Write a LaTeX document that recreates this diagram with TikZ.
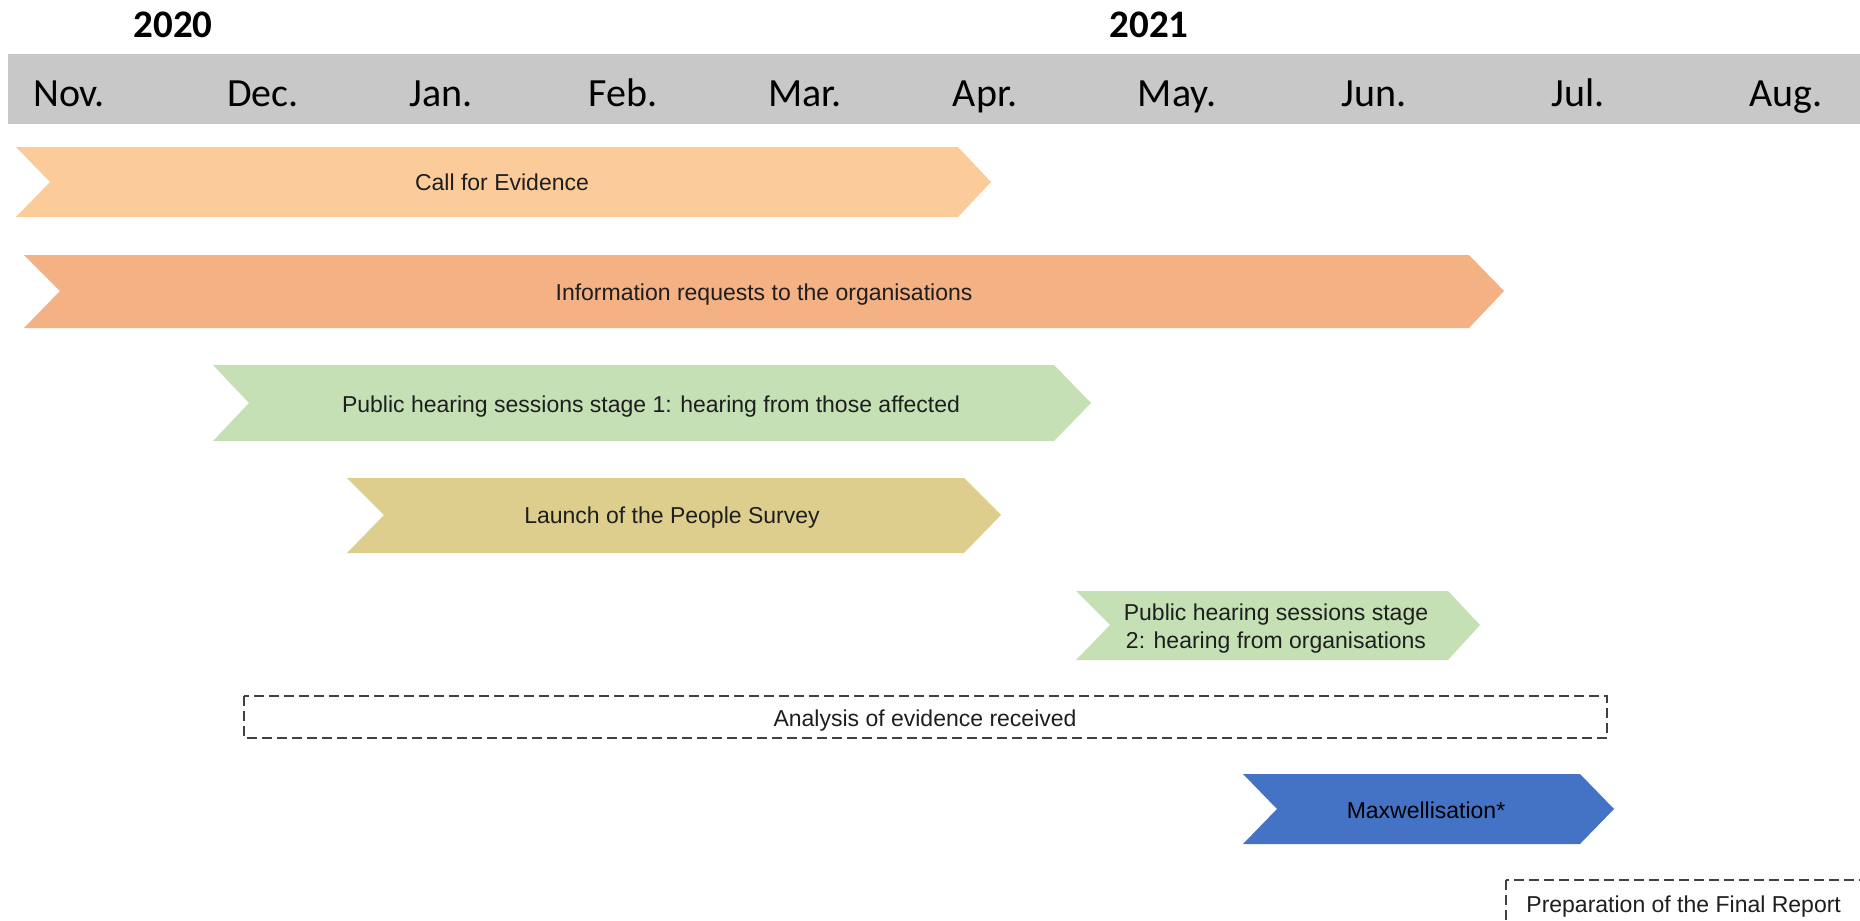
\documentclass[tikz,border=0pt]{standalone}
\usepackage{fontspec}
\setmainfont{Liberation Sans}
\newfontfamily\calibrifont{Carlito}
\definecolor{barpeach}{RGB}{251,203,153}
\definecolor{barorange}{RGB}{244,177,131}
\definecolor{bargreen}{RGB}{197,224,180}
\definecolor{barkhaki}{RGB}{222,206,142}
\definecolor{barblue}{RGB}{68,114,196}
\definecolor{headgrey}{RGB}{200,200,200}
\definecolor{txtdark}{RGB}{30,30,30}
\definecolor{dashgrey}{RGB}{64,64,64}
\begin{document}
\begin{tikzpicture}[x=0.5pt,y=-0.5pt,
  month/.style={font=\calibrifont\fontsize{20pt}{24pt}\selectfont, text=black, inner sep=0pt, anchor=base},
  year/.style={font=\calibrifont\bfseries\fontsize{19.5pt}{24pt}\selectfont, text=black, inner sep=0pt, anchor=base},
  label/.style={font=\fontsize{11.5pt}{14pt}\selectfont, text=txtdark, inner sep=0pt, anchor=base},
  chevron/.style={draw=none},
  dashbox/.style={draw=dashgrey, line width=1pt, dash pattern=on 5pt off 2.5pt}
]
\useasboundingbox (0,0) rectangle (1860,921);
\clip (0,0) rectangle (1860,921);

% header
\fill[headgrey] (8,54) rectangle (1860,124);
\node[year] (y2020) at (173,38) {2020};
\node[year] (y2021) at (1149,38) {2021};
\node[month] (nov) at (69,106) {Nov.};
\node[month] (dec) at (263,106) {Dec.};
\node[month] (jan) at (441,106) {Jan.};
\node[month] (feb) at (623,106) {Feb.};
\node[month] (mar) at (805,106) {Mar.};
\node[month] (apr) at (985,106) {Apr.};
\node[month] (may) at (1177,106) {May.};
\node[month] (jun) at (1374,106) {Jun.};
\node[month] (jul) at (1578,106) {Jul.};
\node[month] (aug) at (1786,106) {Aug.};

% chevrons: left, notch, top, bottom, body end, tip
\fill[barpeach] (16,147) -- (958,147) -- (991,182) -- (958,217) -- (16,217) -- (50,182) -- cycle;
\node[label] (call) at (502,190) {Call for Evidence};

\fill[barorange] (24,255) -- (1469,255) -- (1504,291) -- (1469,328) -- (24,328) -- (60,291) -- cycle;
\node[label] (info) at (764,300) {Information requests to the organisations};

\fill[bargreen] (213,365) -- (1054,365) -- (1091,403) -- (1054,441) -- (213,441) -- (249,403) -- cycle;
\node[label] (stageone) at (651,412) {Public hearing sessions stage 1: hearing from those affected};

\fill[barkhaki] (347,478) -- (964,478) -- (1001,515) -- (964,553) -- (347,553) -- (384,515) -- cycle;
\node[label] (survey) at (672,523) {Launch of the People Survey};

\fill[bargreen] (1076,591) -- (1448,591) -- (1480,625) -- (1448,660) -- (1076,660) -- (1110,625) -- cycle;
\node[label] (stagetwoa) at (1276,620) {Public hearing sessions stage};
\node[label] (stagetwob) at (1276,648) {2: hearing from organisations};

% analysis dashed box
\draw[dashbox] (244,696) rectangle (1607,738);
\node[label] (analysis) at (925,726) {Analysis of evidence received};

\fill[barblue] (1243,774) -- (1580,774) -- (1614,809) -- (1580,844) -- (1243,844) -- (1277,809) -- cycle;
\node[label, text=black] (maxwell) at (1426,818) {Maxwellisation*};

% preparation dashed box (cut by page edge)
\draw[dashbox] (1506,880) rectangle (1900,960);
\node[label, anchor=base west] (prep) at (1526,912) {Preparation of the Final Report};
\end{tikzpicture}
\end{document}
